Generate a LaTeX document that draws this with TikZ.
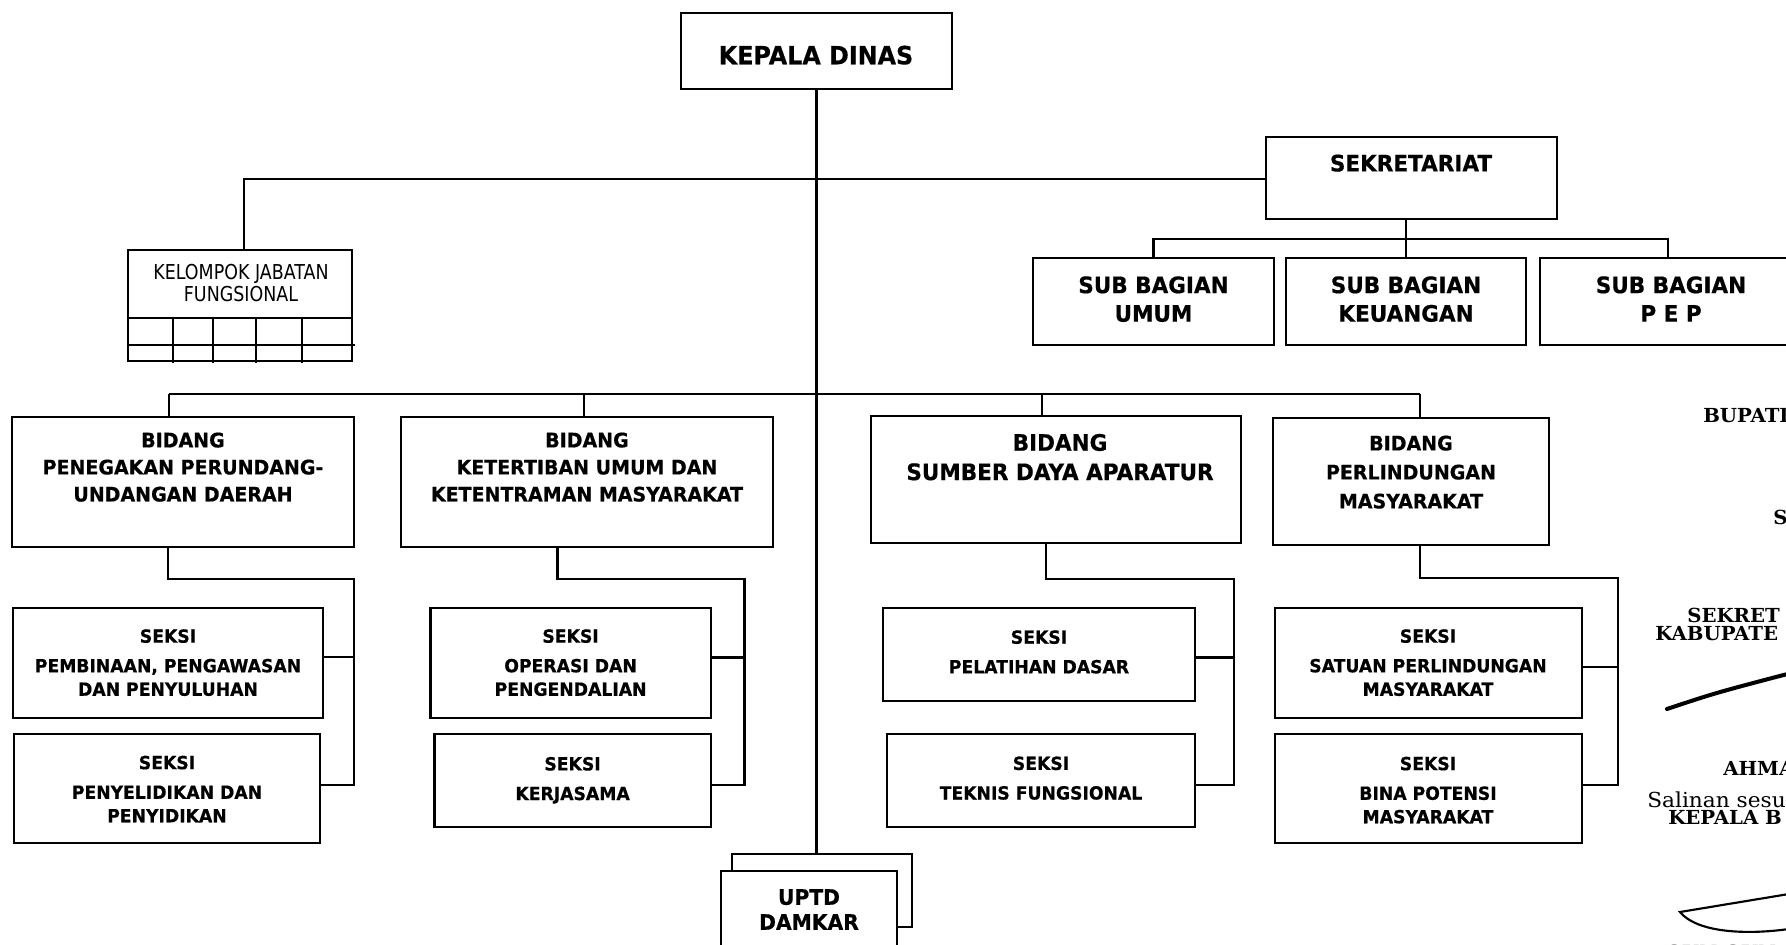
\documentclass[tikz,border=0pt]{standalone}
\usepackage{fontspec}
\usetikzlibrary{fit}
\newfontfamily\tfont{DejaVu Sans}[FakeStretch=0.95, BoldFeatures={FakeBold=0.5}]
\newfontfamily\kfont{DejaVu Sans}[FakeStretch=0.85]
\newfontfamily\serfont{DejaVu Serif}[FakeStretch=1.02]
\newfontfamily\serregfont{DejaVu Serif}[FakeStretch=1.05]
\begin{document}
\begin{tikzpicture}[x=0.75pt,y=-0.75pt,
  box/.style={draw, line width=2pt, inner sep=0pt, fill=white},
  conn/.style={line width=1.8pt},
  tt/.style={align=center, inner sep=0pt, text depth=0pt},
  kdfont/.style={tt, font=\tfont\bfseries\fontsize{18.8}{22}\selectfont},
  subfont/.style={tt, font=\tfont\bfseries\fontsize{17}{21.4}\selectfont},
  bafont/.style={tt, font=\tfont\bfseries\fontsize{15}{20.3}\selectfont},
  bbfont/.style={tt, font=\tfont\bfseries\fontsize{17}{22}\selectfont},
  bcfont/.style={tt, font=\tfont\bfseries\fontsize{15}{21.75}\selectfont},
  skfont/.style={tt, font=\tfont\bfseries\fontsize{13.6}{17.6}\selectfont},
  upfont/.style={tt, font=\tfont\bfseries\fontsize{16}{18.75}\selectfont},
  klfont/.style={tt, font=\kfont\fontsize{15.4}{16.5}\selectfont},
  sbold/.style={anchor=west, inner sep=0pt, text depth=0pt, font=\serfont\bfseries\fontsize{14.5}{17}\selectfont},
  sreg/.style={anchor=west, inner sep=0pt, text depth=0pt, font=\serregfont\fontsize{15.5}{17}\selectfont}
]
\useasboundingbox (0,0) rectangle (1786,945);
\clip (0,0) rectangle (1786,945);

% ---------- boxes ----------
\node[box, fit={(681,13) (952,89)}] (kd) {};
\node[box, fit={(1266,137) (1557,219)}] (sek) {};
\node[box, fit={(1033,258) (1274,345)}] (umum) {};
\node[box, fit={(1286,258) (1526,345)}] (keu) {};
\node[box, fit={(1540,258) (1810,345)}] (pep) {};
\node[box, fit={(128,250) (352,361)}] (kel) {};

\node[box, fit={(12,417) (354,547)}] (b1) {};
\node[box, fit={(401,417) (773,547)}] (b2) {};
\node[box, fit={(871,416) (1241,543)}] (b3) {};
\node[box, fit={(1273,418) (1549,545)}] (b4) {};

\node[box, fit={(13,608) (323,718)}] (s1a) {};
\node[box, fit={(14,734) (320,843)}] (s1b) {};
\node[box, fit={(430.5,608) (711,718)}] (s2a) {};
\node[box, fit={(434.6,734) (711,827)}] (s2b) {};
\node[box, fit={(883,608) (1195,701)}] (s3a) {};
\node[box, fit={(887,734) (1195,827)}] (s3b) {};
\node[box, fit={(1275,608) (1582,718)}] (s4a) {};
\node[box, fit={(1275,734) (1582,843)}] (s4b) {};

\node[box, fit={(732,854) (912,927)}] (uptdb) {};
\node[box, fit={(721,871) (897,965)}] (uptd) {};

% ---------- kelompok grid ----------
\draw[line width=1.7pt] (kel.west |- 0,318) -- (kel.east |- 0,318);
\draw[line width=1.7pt] (kel.west |- 0,345) -- (355,345);
\foreach \gx in {173,213,256,302} {
  \draw[line width=1.7pt] (\gx,318) -- (\gx,363);
}

% ---------- texts ----------
\node[kdfont] (kdt) at (816,55) {KEPALA DINAS};
\node[subfont] (sekt) at (1411,163) {SEKRETARIAT};
\node[subfont] (umumt) at (1153.5,299) {SUB BAGIAN\\UMUM};
\node[subfont] (keut) at (1406,299) {SUB BAGIAN\\KEUANGAN};
\node[subfont] (pept) at (1671,299) {SUB BAGIAN\\P E P};
\node[klfont] (kelt) at (241,282.5) {KELOMPOK JABATAN\\FUNGSIONAL};

\node[bafont] (b1t) at (183,467) {BIDANG\\PENEGAKAN PERUNDANG-\\UNDANGAN DAERAH};
\node[bafont] (b2t) at (587,467) {BIDANG\\KETERTIBAN UMUM DAN\\KETENTRAMAN MASYARAKAT};
\node[bbfont] (b3t) at (1060,457) {BIDANG\\SUMBER DAYA APARATUR};
\node[bcfont] (b4t) at (1411,472) {BIDANG\\PERLINDUNGAN\\MASYARAKAT};

\node[skfont] (s1at) at (168,662.5) {SEKSI\\[4.6pt]PEMBINAAN, PENGAWASAN\\DAN PENYULUHAN};
\node[skfont] (s1bt) at (167,789) {SEKSI\\[4.6pt]PENYELIDIKAN DAN\\PENYIDIKAN};
\node[skfont] (s2at) at (570.6,662.5) {SEKSI\\[4.6pt]OPERASI DAN\\PENGENDALIAN};
\node[skfont] (s2bt) at (572.6,778.5) {SEKSI\\[4.6pt]KERJASAMA};
\node[skfont] (s3at) at (1039,651.8) {SEKSI\\[4.6pt]PELATIHAN DASAR};
\node[skfont] (s3bt) at (1041,778) {SEKSI\\[4.6pt]TEKNIS FUNGSIONAL};
\node[skfont] (s4at) at (1428,662.5) {SEKSI\\[4.6pt]SATUAN PERLINDUNGAN\\MASYARAKAT};
\node[skfont] (s4bt) at (1428,790) {SEKSI\\[4.6pt]BINA POTENSI\\MASYARAKAT};

\node[upfont] (uptdt) at (809,909.5) {UPTD\\DAMKAR};

% ---------- connectors ----------
\draw[conn] (kd.south) -- (kd.south |- uptdb.north);

\coordinate (hk) at (244,179);
\draw[conn] (sek.west |- hk) -- (hk) -- (hk |- kel.north);

\coordinate (pc) at (1668,239);
\draw[conn] (keu.north) -- (keu.north |- sek.south);
\draw[conn] (umum.north) -- (umum.north |- pc) -- (pc) -- (pc |- pep.north);

\coordinate (bb1) at (169,394);
\coordinate (bb2) at (584,394);
\coordinate (bb3) at (1042,394);
\coordinate (bb4) at (1420,394);
\draw[conn] (bb1) -- (bb4);
\draw[conn] (bb1) -- (bb1 |- b1.north);
\draw[conn] (bb2) -- (bb2 |- b2.north);
\draw[conn] (bb3) -- (bb3 |- b3.north);
\draw[conn] (bb4) -- (bb4 |- b4.north);

\coordinate (d1) at (168,579);   \coordinate (r1) at (354,579);
\coordinate (d2) at (557.4,579); \coordinate (r2) at (744.5,579);
\coordinate (d3) at (1046,579);  \coordinate (r3) at (1234,579);
\coordinate (d4) at (1420,578);  \coordinate (r4) at (1618,578);

\draw[conn] (d1 |- b1.south) -- (d1) -- (r1) -- (r1 |- 0,785) -- (s1b.east |- 0,785);
\draw[conn] (s1a.east |- 0,657) -- (r1 |- 0,657);
\draw[conn] (d2 |- b2.south) -- (d2) -- (r2) -- (r2 |- 0,785) -- (s2b.east |- 0,785);
\draw[conn] (s2a.east |- 0,657.5) -- (r2 |- 0,657.5);
\draw[conn] (d3 |- b3.south) -- (d3) -- (r3) -- (r3 |- 0,785) -- (s3b.east |- 0,785);
\draw[conn] (s3a.east |- 0,657.5) -- (r3 |- 0,657.5);
\draw[conn] (d4 |- b4.south) -- (d4) -- (r4) -- (r4 |- 0,785) -- (s4b.east |- 0,785);
\draw[conn] (s4a.east |- 0,667) -- (r4 |- 0,667);

% ---------- right-hand margin text (cut off by page edge) ----------
\node[sbold] (rt1) at (1703,415) {BUPATI};
\node[sbold] (rt2) at (1773,517) {S};
\node[sbold] (rt3) at (1687,615) {SEKRET};
\node[sbold] (rt4) at (1655,633.5) {KABUPATE};
\node[sbold] (rt5) at (1723,768) {AHMA};
\node[sreg]  (rt6) at (1647,800) {Salinan sesu};
\node[sbold] (rt7) at (1668,817) {KEPALA B};
\node[sbold] (rt8) at (1665,952) {GUN GUN};

\draw[line width=3pt, line cap=round] (1667,709) .. controls (1715,693) .. (1795,672);
\draw[line width=1.6pt] (1795,893) -- (1680,912) .. controls (1700,936) and (1760,934) .. (1795,928);
\end{tikzpicture}
\end{document}
